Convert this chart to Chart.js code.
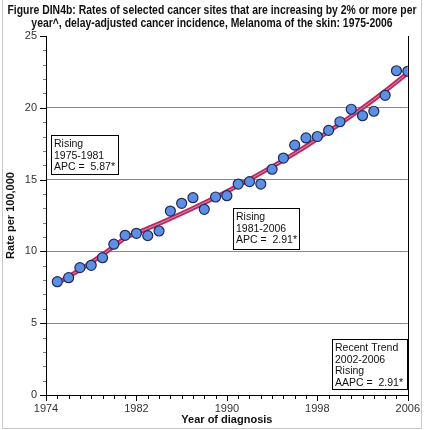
<!DOCTYPE html>
<html><head><meta charset="utf-8">
<script src="https://cdn.jsdelivr.net/npm/chart.js@4/dist/chart.umd.min.js"></script>
<style>html,body{margin:0;padding:0;background:#fff}#wrap{width:427px;height:430px;position:relative}</style>
</head><body><div id="wrap"><canvas id="c" width="427" height="430"></canvas></div>
<script>
const years = [1975,1976,1977,1978,1979,1980,1981,1982,1983,1984,1985,1986,1987,1988,1989,1990,
               1991,1992,1993,1994,1995,1996,1997,1998,1999,2000,2001,2002,2003,2004,2005,2006];
const observedRates = [7.89,8.17,8.87,9.03,9.56,10.50,11.12,11.26,11.10,11.42,12.81,13.35,13.74,12.93,13.79,13.88,
                       14.69,14.86,14.69,15.72,16.50,17.40,17.90,18.00,18.43,19.03,19.90,19.45,19.76,20.87,22.58,22.54];
const trendRates = [7.78,8.24,8.72,9.23,9.77,10.35,10.95,11.27,11.60,11.93,12.28,12.64,13.01,13.38,13.77,14.17,
                    14.59,15.01,15.45,15.90,16.36,16.83,17.32,17.83,18.35,18.88,19.43,19.99,20.57,21.17,21.79,22.42];
const yTickValues = [0,5,10,15,20,25];
const xTickLabels = [1974,1982,1990,1998,2006];
const titleLines = ["Figure DIN4b: Rates of selected cancer sites that are increasing by 2% or more per",
                    "year^, delay-adjusted cancer incidence, Melanoma of the skin: 1975-2006"];
const noteEarly = ["Rising","1975-1981","APC =  5.87*"];
const noteLate = ["Rising","1981-2006","APC =  2.91*"];
const noteRecent = ["Recent Trend","2002-2006","Rising","AAPC =  2.91*"];

const FONT = "Arial, 'Liberation Sans', sans-serif";
const pts = (xs, ys) => xs.map((x,i)=>({x, y: ys[i]}));

const boxes = [
  {lines: noteEarly, x: 51, y: 135, w: 67, h: 39},
  {lines: noteLate, x: 233, y: 208, w: 66, h: 41},
  {lines: noteRecent, x: 332, y: 339, w: 75, h: 50}
];

const decor = {
  id: 'decor',
  afterDraw(chart) {
    const ctx = chart.ctx, a = chart.chartArea;
    const xs = chart.scales.x, ys = chart.scales.y;
    ctx.save();
    // outer light frame
    ctx.strokeStyle = '#c8c8c8'; ctx.lineWidth = 1;
    ctx.beginPath();
    ctx.moveTo(2.5, 0); ctx.lineTo(2.5, 428.5); ctx.lineTo(421.5, 428.5); ctx.lineTo(421.5, 0);
    ctx.stroke();
    // right plot frame
    ctx.strokeStyle = '#000'; ctx.lineWidth = 1;
    ctx.beginPath();
    const rx = Math.round(a.right) + 0.5;
    ctx.moveTo(rx, a.top); ctx.lineTo(rx, a.bottom); ctx.stroke();
    // x ticks
    ctx.beginPath();
    for (let yr = 1974; yr <= 2006; yr++) {
      const px = Math.round(xs.getPixelForValue(yr)) + 0.5;
      const len = xTickLabels.includes(yr) ? 6 : 4;
      ctx.moveTo(px, a.bottom); ctx.lineTo(px, a.bottom + len);
    }
    ctx.stroke();
    // y ticks
    for (let v = 0; v <= 25; v++) {
      const py = Math.round(ys.getPixelForValue(v)) + 0.5;
      const major = yTickValues.includes(v);
      ctx.strokeStyle = major ? '#000' : '#777';
      ctx.beginPath();
      ctx.moveTo(a.left, py); ctx.lineTo(a.left - (major ? 6 : 3), py);
      ctx.stroke();
    }
    // annotation boxes
    ctx.font = "10.5px " + FONT;
    ctx.textBaseline = 'alphabetic'; ctx.textAlign = 'left';
    boxes.forEach(b => {
      ctx.fillStyle = '#fff';
      ctx.fillRect(b.x, b.y, b.w, b.h);
      ctx.strokeStyle = '#000'; ctx.lineWidth = 1;
      ctx.strokeRect(b.x + 0.5, b.y + 0.5, b.w, b.h);
      ctx.fillStyle = '#111';
      b.lines.forEach((t, i) => ctx.fillText(t, b.x + 3, b.y + 12 + i * 11.5));
    });
    // title
    ctx.fillStyle = '#111';
    ctx.font = "bold 12px " + FONT;
    ctx.textAlign = 'center';
    const w1 = ctx.measureText(titleLines[0]).width;
    const k = Math.min(1, 409 / w1);
    titleLines.forEach((t, i) => {
      const w = ctx.measureText(t).width * k;
      ctx.fillText(t, 212, 14 + i * 12.5, w);
    });
    ctx.restore();
  }
};

new Chart(document.getElementById('c'), {
  type: 'scatter',
  data: {
    datasets: [
      {label: 'Observed', data: pts(years, observedRates), order: 0,
       pointRadius: 5, pointHoverRadius: 5, backgroundColor: '#5e8fe4', borderColor: '#1c2c58', borderWidth: 1.2},
      {label: 'Trend centre', data: pts(years, trendRates), type: 'line', order: 1, showLine: true,
       pointRadius: 0, borderColor: '#9aa4e6', borderWidth: 1, fill: false, tension: 0},
      {label: 'Trend', data: pts(years, trendRates), type: 'line', order: 2, showLine: true,
       pointRadius: 0, borderColor: '#cc2452', borderWidth: 4.5, fill: false, tension: 0}
    ]
  },
  options: {
    responsive: false, animation: false, events: [],
    layout: {padding: {left: 0, right: 16, top: 36, bottom: 0}},
    plugins: {legend: {display: false}, tooltip: {enabled: false}, title: {display: false}},
    scales: {
      x: {
        type: 'linear', min: 1974, max: 2006,
        afterBuildTicks: s => { s.ticks = xTickLabels.map(v => ({value: v})); },
        afterFit: s => { s.height = 35; },
        grid: {display: false, drawTicks: false},
        border: {display: true, color: '#000', width: 1},
        ticks: {color: '#333', font: {family: FONT, size: 11}, padding: 7, maxRotation: 0,
                callback: v => String(v)},
        title: {display: true, text: 'Year of diagnosis', color: '#111',
                font: {family: FONT, size: 11, weight: 'bold'}, padding: {top: 2, bottom: 3}}
      },
      y: {
        min: 0, max: 25,
        afterBuildTicks: s => { s.ticks = yTickValues.map(v => ({value: v})); },
        afterFit: s => { s.width = 46; },
        grid: {drawTicks: false, color: c => (c.tick && c.tick.value > 0 && c.tick.value < 25) ? '#8a8a8a' : 'rgba(0,0,0,0)', lineWidth: 1},
        border: {display: true, color: '#000', width: 1},
        ticks: {color: '#333', font: {family: FONT, size: 11}, padding: 9, callback: v => String(v)},
        title: {display: true, text: 'Rate per 100,000', color: '#111',
                font: {family: FONT, size: 11, weight: 'bold'}, padding: {top: 4, bottom: 4}}
      }
    }
  },
  plugins: [decor]
});
</script></body></html>
